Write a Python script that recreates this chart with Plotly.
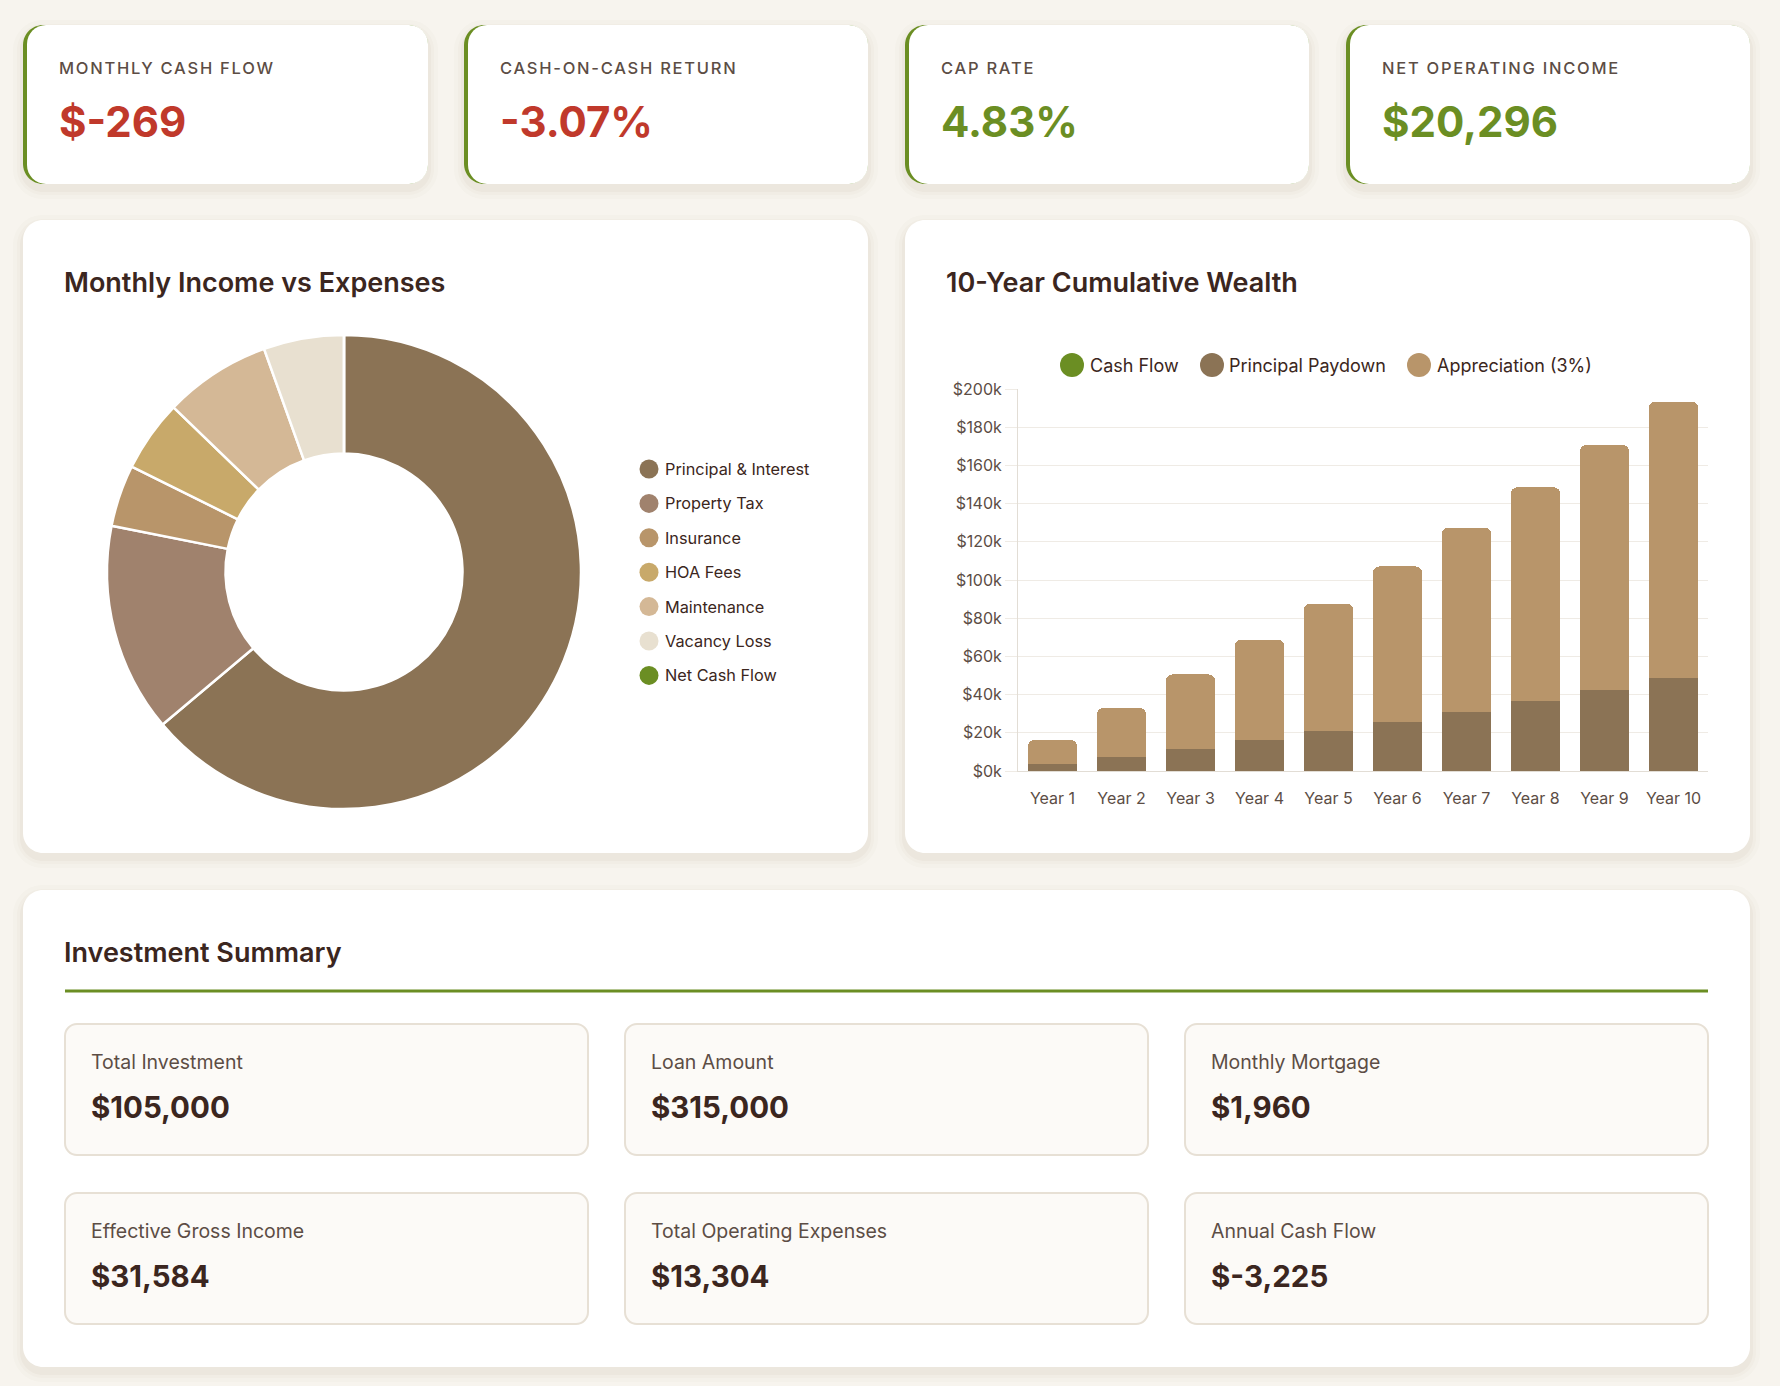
import plotly.graph_objects as go

# ---------------- data ----------------
kpi_labels = ["MONTHLY CASH FLOW", "CASH-ON-CASH RETURN", "CAP RATE", "NET OPERATING INCOME"]
kpi_values = ["$-269", "-3.07%", "4.83%", "$20,296"]

pie_labels = ["Principal & Interest", "Property Tax", "Insurance", "HOA Fees",
              "Maintenance", "Vacancy Loss", "Net Cash Flow"]
pie_values = [1960, 437.5, 129.17, 150, 224, 168, 0]

years = ["Year 1", "Year 2", "Year 3", "Year 4", "Year 5",
         "Year 6", "Year 7", "Year 8", "Year 9", "Year 10"]
cash_flow = [0, 0, 0, 0, 0, 0, 0, 0, 0, 0]
principal_paydown = [3600, 7400, 11600, 16000, 20700, 25600, 30900, 36500, 42600, 48900]
appreciation = [12600, 25580, 38950, 52710, 66900, 81500, 96550, 112050, 128010, 144450]
bar_series = ["Cash Flow", "Principal Paydown", "Appreciation (3%)"]
y_ticks = [0, 20000, 40000, 60000, 80000, 100000, 120000, 140000, 160000, 180000, 200000]

summary_labels = ["Total Investment", "Loan Amount", "Monthly Mortgage",
                  "Effective Gross Income", "Total Operating Expenses", "Annual Cash Flow"]
summary_values = ["$105,000", "$315,000", "$1,960", "$31,584", "$13,304", "$-3,225"]

# ---------------- style ----------------
W, H = 1780, 1386
FONT = "Inter, 'Open Sans', sans-serif"
BG = "#f7f4ee"
GREEN = "#6b8e23"
RED = "#c0392b"
DARK = "#3b2620"
MUTED = "#5c4d45"
pie_colors = ["#8b7355", "#a0826d", "#b8956a", "#c8a96a", "#d4b896", "#e8e0d0", GREEN]
bar_colors = [GREEN, "#8b7355", "#b8956a"]


def X(x):
    return x / W


def Y(y):
    return 1 - y / H


def rr_path(x0, y0, x1, y1, r):
    k = 0.5523 * r
    return (f"M{X(x0 + r)},{Y(y0)} L{X(x1 - r)},{Y(y0)} "
            f"C{X(x1 - r + k)},{Y(y0)} {X(x1)},{Y(y0 + r - k)} {X(x1)},{Y(y0 + r)} "
            f"L{X(x1)},{Y(y1 - r)} "
            f"C{X(x1)},{Y(y1 - r + k)} {X(x1 - r + k)},{Y(y1)} {X(x1 - r)},{Y(y1)} "
            f"L{X(x0 + r)},{Y(y1)} "
            f"C{X(x0 + r - k)},{Y(y1)} {X(x0)},{Y(y1 - r + k)} {X(x0)},{Y(y1 - r)} "
            f"L{X(x0)},{Y(y0 + r)} "
            f"C{X(x0)},{Y(y0 + r - k)} {X(x0 + r - k)},{Y(y0)} {X(x0 + r)},{Y(y0)} Z")


shapes = []
annotations = []


def card(x0, y0, x1, y1, r=20, fill="#ffffff", line=None, shadow=True):
    if shadow:
        for grow, op in [(10, 0.018), (6, 0.025), (3, 0.035)]:
            shapes.append(dict(type="path", path=rr_path(x0 - grow, y0 - grow + 5, x1 + grow, y1 + grow + 5, r + grow),
                               xref="paper", yref="paper", fillcolor=f"rgba(110,90,60,{op})",
                               line=dict(width=0), layer="below"))
    shapes.append(dict(type="path", path=rr_path(x0, y0, x1, y1, r), xref="paper", yref="paper",
                       fillcolor=fill, line=dict(width=line[1], color=line[0]) if line else dict(width=0),
                       layer="below"))


def text(x, y, s, size, color, weight=400, xanchor="left", spacing=None):
    if spacing:
        s = f'<span style="letter-spacing:{spacing}px">{s}</span>'
    annotations.append(dict(x=X(x - 2), y=Y(y), xref="paper", yref="paper", text=s, showarrow=False,
                            xanchor=xanchor, yanchor="middle", borderpad=0,
                            font=dict(family=FONT, size=size, color=color, weight=weight)))


def dot(cx, cy, r, color):
    shapes.append(dict(type="circle", xref="paper", yref="paper", xsizemode="pixel", ysizemode="pixel",
                       xanchor=X(cx), yanchor=Y(cy), x0=-r, x1=r, y0=-r, y1=r,
                       fillcolor=color, line=dict(width=0), layer="above"))


# KPI cards
kpi_x = [(23, 428), (464, 868), (905, 1309), (1346, 1750)]
for (x0, x1), lab, val in zip(kpi_x, kpi_labels, kpi_values):
    card(x0, 25, x1, 184)
    shapes.append(dict(type="path", path=rr_path(x0, 25, x1, 184, 20), xref="paper", yref="paper",
                       fillcolor=GREEN, line=dict(width=0), layer="below"))
    shapes.append(dict(type="path", path=rr_path(x0 + 4, 25, x1, 184, 19), xref="paper", yref="paper",
                       fillcolor="#ffffff", line=dict(width=0), layer="below"))
    text(x0 + 37, 68, lab, 16.5, MUTED, 500, spacing=1.75)
    col = RED if val.replace("$", "").startswith("-") else GREEN
    text(x0 + 37, 122, val, 42, col, 700)

# panels
card(23, 220, 868, 853)
card(905, 220, 1750, 853)
card(23, 890, 1750, 1367)
text(65, 282, "Monthly Income vs Expenses", 27, DARK, 600)
text(947, 282, "10-Year Cumulative Wealth", 27, DARK, 600)
text(65, 952, "Investment Summary", 27, DARK, 600)
shapes.append(dict(type="rect", xref="paper", yref="paper", x0=X(65), x1=X(1708), y0=Y(989.5), y1=Y(992.5),
                   fillcolor=GREEN, line=dict(width=0), layer="below"))

# pie legend
for i, (lab, col) in enumerate(zip(pie_labels, pie_colors)):
    cy = 469 + i * 34.4
    dot(649, cy, 9.5, col)
    text(666, cy, lab, 16.3, DARK, 400)

# bar legend
leg_pos = [(1072, 1091), (1212, 1230), (1419, 1438)]
for (cx, tx), lab, col in zip(leg_pos, bar_series, bar_colors):
    dot(cx, 365, 12, col)
    text(tx, 365, lab, 18, DARK, 400)

# summary boxes
cols = [(65, 588), (625, 1148), (1185, 1708)]
rows = [(1024, 1155), (1193, 1324)]
for i, (lab, val) in enumerate(zip(summary_labels, summary_values)):
    (x0, x1) = cols[i % 3]
    (y0, y1) = rows[i // 3]
    card(x0, y0, x1, y1, r=12, fill="#fcfaf7", line=("#e7e0d5", 2), shadow=False)
    text(x0 + 27, y0 + 38, lab, 19.5, MUTED, 400)
    text(x0 + 27, y0 + 83, val, 29.5, DARK, 700)

fig = go.Figure()

fig.add_trace(go.Pie(labels=pie_labels, values=pie_values, hole=0.5, sort=False, direction="clockwise",
                     rotation=0, marker=dict(colors=pie_colors, line=dict(color="#ffffff", width=2.5)),
                     textinfo="none", showlegend=False, automargin=False,
                     domain=dict(x=[X(344 - 237), X(344 + 237)], y=[Y(572 + 237), Y(572 - 237)])))

for name, vals, col in zip(bar_series, [cash_flow, principal_paydown, appreciation], bar_colors):
    fig.add_trace(go.Bar(x=years, y=vals, name=name, marker=dict(color=col, line=dict(width=0)),
                         showlegend=False, xaxis="x", yaxis="y"))

fig.update_layout(
    width=W, height=H, margin=dict(l=0, r=0, t=0, b=0, pad=0, autoexpand=False),
    paper_bgcolor=BG, plot_bgcolor="rgba(0,0,0,0)",
    barmode="stack", bargap=0.29, barcornerradius=6,
    font=dict(family=FONT, color=MUTED),
    xaxis=dict(domain=[X(1018), X(1708)], showgrid=False, showline=True, linecolor="#e2ddd5", linewidth=1,
               ticks="outside", ticklen=13, tickcolor="rgba(0,0,0,0)", automargin=False,
               tickfont=dict(size=16, color=MUTED, family=FONT), fixedrange=True),
    yaxis=dict(domain=[Y(771), Y(389)], range=[0, 200000], tickvals=y_ticks,
               ticktext=[f"${v // 1000}k" for v in y_ticks], automargin=False,
               showgrid=True, gridcolor="#efebe5", gridwidth=1, showline=True, linecolor="#e2ddd5",
               ticks="outside", ticklen=12, tickcolor="#efebe5", zeroline=False,
               tickfont=dict(size=16, color=MUTED, family=FONT), fixedrange=True),
    shapes=shapes, annotations=annotations, showlegend=False,
)

fig.write_html("out.html")
